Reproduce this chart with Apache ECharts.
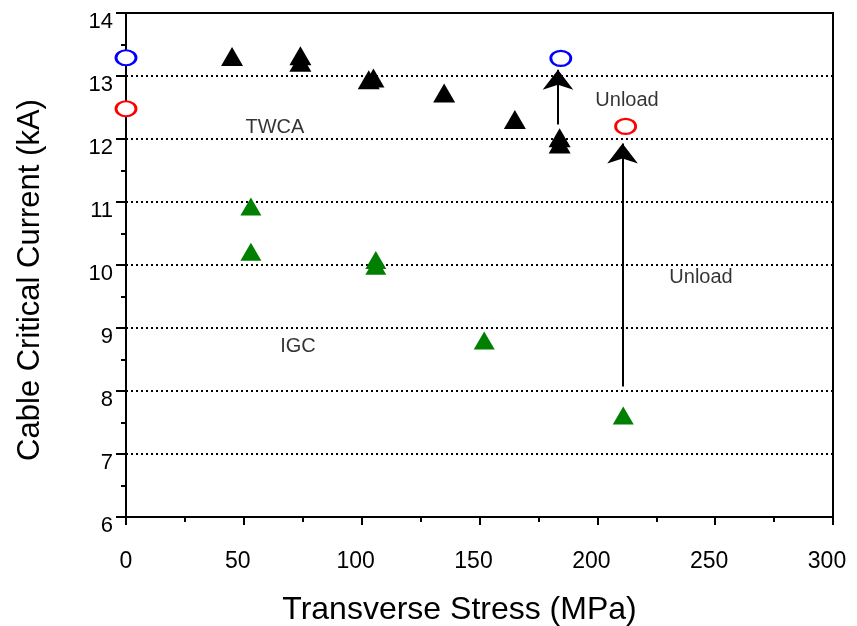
<!DOCTYPE html>
<html><head><meta charset="utf-8">
<script src="https://cdn.jsdelivr.net/npm/echarts@6/dist/echarts.min.js"></script>
<style>html,body{margin:0;padding:0;background:#fff}#c{width:857px;height:626px}</style>
</head><body><div id="c"></div>
<script>
// ---- data ----
const xTickLabels = ['0','50','100','150','200','250','300'];
const yTickLabels = ['6','7','8','9','10','11','12','13','14'];

const twcaStress  = [45, 74, 74, 103, 105, 135, 165, 184, 184];
const twcaCurrent = [13.31, 13.32, 13.22, 12.94, 12.97, 12.73, 12.31, 12.02, 11.92];

const igcStress  = [53, 53, 106, 106, 152, 211];
const igcCurrent = [10.93, 10.21, 10.08, 9.99, 8.80, 7.61];

const twcaUnloadStress  = [0, 184.5];
const twcaUnloadCurrent = [13.29, 13.28];

const igcUnloadStress  = [0, 212];
const igcUnloadCurrent = [12.48, 12.20];

const arrowStress = [183.3, 210.7];
const arrowFrom   = [12.23, 8.07];
const arrowTo     = [13.10, 11.93];

const noteText    = ['TWCA', 'IGC', 'Unload', 'Unload'];
const noteStress  = [63.2, 73, 212.6, 244];
const noteCurrent = [12.18, 8.70, 12.61, 9.80];

// ---- build chart ----
const zip = (xs, ys) => xs.map((x, i) => [x, ys[i]]);
const ellipse = 'path://M0,7.5 A10,7.5 0 1,1 20,7.5 A10,7.5 0 1,1 0,7.5 Z';
const numFont = 'Liberation Sans, Arial, sans-serif';

const chart = echarts.init(document.getElementById('c'), null, {renderer: 'canvas'});
chart.setOption({
  animation: false,
  backgroundColor: '#fff',
  grid: {left: 126, right: 24, top: 13, bottom: 109, show: true, borderColor: '#000', borderWidth: 2,
         containLabel: false, outerBoundsMode: 'none'},
  xAxis: {
    type: 'value', min: 0, max: 300, interval: 50,
    name: 'Transverse Stress (MPa)', nameLocation: 'middle', nameGap: 77,
    nameTextStyle: {fontFamily: numFont, fontSize: 32, color: '#000', padding: [0, 40, 0, 0]},
    axisLine: {lineStyle: {color: '#000', width: 2}},
    axisTick: {length: 8, lineStyle: {color: '#000', width: 2}},
    minorTick: {show: true, splitNumber: 2, length: 5, lineStyle: {color: '#000', width: 2}},
    splitLine: {show: false},
    axisLabel: {margin: 33, fontFamily: numFont, fontSize: 23, color: '#000',
      formatter: v => v === 0 ? xTickLabels[0] : '{n|' + xTickLabels[Math.round(v / 50)] + '}',
      rich: {n: {fontFamily: numFont, fontSize: 23, color: '#000', padding: [0, 12, 0, 0]}}}
  },
  yAxis: {
    type: 'value', min: 6, max: 14, interval: 1,
    name: 'Cable Critical Current (kA)', nameLocation: 'middle', nameGap: 80,
    nameTextStyle: {fontFamily: numFont, fontSize: 31, color: '#000', padding: [0, 30, 0, 0]},
    axisLine: {lineStyle: {color: '#000', width: 2}},
    axisTick: {length: 10, lineStyle: {color: '#000', width: 2}},
    minorTick: {show: true, splitNumber: 2, length: 5, lineStyle: {color: '#000', width: 2}},
    splitLine: {show: true, lineStyle: {color: '#000', width: 2, type: [2, 3]}},
    axisLabel: {margin: 13, fontFamily: numFont, fontSize: 22, color: '#000', verticalAlign: 'top', lineHeight: 18,
      formatter: v => yTickLabels[Math.round(v - 6)]}
  },
  series: [
    {name: 'TWCA', type: 'scatter', clip: false, symbol: 'triangle', symbolSize: [22, 19],
     itemStyle: {color: '#000', opacity: 1}, data: zip(twcaStress, twcaCurrent), z: 4},
    {name: 'IGC', type: 'scatter', clip: false, symbol: 'triangle', symbolSize: [21, 18],
     itemStyle: {color: '#007F00', opacity: 1}, data: zip(igcStress, igcCurrent), z: 4},
    {name: 'TWCA unload', type: 'scatter', clip: false, symbol: ellipse, symbolKeepAspect: false, symbolSize: [20, 15],
     itemStyle: {color: '#fff', borderColor: '#0000ff', borderWidth: 2.5, opacity: 1}, data: zip(twcaUnloadStress, twcaUnloadCurrent), z: 5},
    {name: 'IGC unload', type: 'scatter', clip: false, symbol: ellipse, symbolKeepAspect: false, symbolSize: [20, 15],
     itemStyle: {color: '#fff', borderColor: '#ff0000', borderWidth: 2.5, opacity: 1}, data: zip(igcUnloadStress, igcUnloadCurrent), z: 5},
    {name: 'arrows', type: 'lines', coordinateSystem: 'cartesian2d', symbol: ['none', 'arrow'], symbolSize: [1, [23, 20]],
     lineStyle: {color: '#000', width: 2, opacity: 1}, itemStyle: {color: '#000'}, z: 3,
     data: arrowStress.map((x, i) => ({coords: [[x, arrowFrom[i]], [x, arrowTo[i]]]}))},
    {name: 'notes', type: 'scatter', clip: false, symbol: 'circle', symbolSize: 0, silent: true, z: 6,
     data: noteText.map((t, i) => ({name: t, value: [noteStress[i], noteCurrent[i]]})),
     label: {show: true, position: 'inside', formatter: p => p.name, fontFamily: numFont, fontSize: 20, color: '#000'}}
  ]
});
</script></body></html>
